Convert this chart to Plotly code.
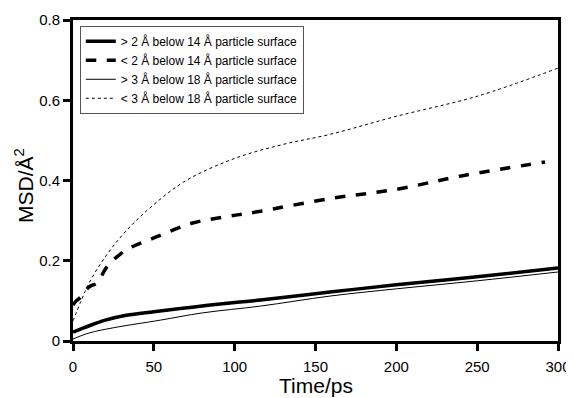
import plotly.graph_objects as go

names = ["> 2 Å below 14 Å particle surface",
         "< 2 Å below 14 Å particle surface",
         "> 3 Å below 18 Å particle surface",
         "< 3 Å below 18 Å particle surface"]
x_title = "Time/ps"
y_title = "MSD/Å<sup>2</sup>"

t_thick = [0, 5, 10, 20, 33, 50, 75, 100, 116, 159, 200, 250, 300]
v_thick = [0.022, 0.03, 0.038, 0.052, 0.064, 0.073, 0.085, 0.096, 0.102, 0.122, 0.14, 0.16, 0.182]

t_dash = [0, 2, 5, 10, 15, 21, 33, 52, 74, 95, 114, 159, 200, 241, 292]
v_dash = [0.09, 0.10, 0.11, 0.135, 0.145, 0.185, 0.227, 0.26, 0.294, 0.31, 0.322, 0.355, 0.378, 0.412, 0.446]

t_thin = [0, 10, 25, 54, 80, 116, 159, 200, 250, 300]
v_thin = [0.005, 0.02, 0.033, 0.052, 0.07, 0.087, 0.112, 0.13, 0.15, 0.172]

t_dot = [0, 5, 10, 20, 33, 50, 70, 100, 130, 159, 200, 250, 300]
v_dot = [0.05, 0.1, 0.145, 0.21, 0.275, 0.34, 0.4, 0.455, 0.49, 0.515, 0.56, 0.61, 0.68]

fig = go.Figure()
fig.add_trace(go.Scatter(x=t_thick, y=v_thick, name=names[0], mode="lines",
                         line=dict(color="black", width=3.5, shape="spline", smoothing=1)))
fig.add_trace(go.Scatter(x=t_dash, y=v_dash, name=names[1], mode="lines",
                         line=dict(color="black", width=3.5, dash="dash", shape="spline", smoothing=1)))
fig.add_trace(go.Scatter(x=t_thin, y=v_thin, name=names[2], mode="lines",
                         line=dict(color="black", width=1, shape="spline", smoothing=1)))
fig.add_trace(go.Scatter(x=t_dot, y=v_dot, name=names[3], mode="lines",
                         line=dict(color="black", width=1, dash="dot", shape="spline", smoothing=1)))

fig.update_layout(
    width=566, height=390,
    margin=dict(l=65, r=16, t=12, b=57, autoexpand=False),
    paper_bgcolor="white", plot_bgcolor="white",
    font=dict(family="Liberation Sans, Arial, sans-serif", color="black", size=15),
    legend=dict(x=0.014, y=0.982, xanchor="left", yanchor="top",
                bordercolor="#555", borderwidth=1, bgcolor="white",
                font=dict(size=12), tracegroupgap=0, itemwidth=30),
    showlegend=True,
    annotations=[
        dict(text=x_title, xref="paper", yref="paper", x=0.5, y=-0.138,
             xanchor="center", yanchor="middle", showarrow=False, font=dict(size=21)),
        dict(text=y_title, xref="paper", yref="paper", x=-0.101, y=0.483,
             xanchor="center", yanchor="middle", showarrow=False, textangle=-90,
             font=dict(size=21)),
    ],
)
fig.update_xaxes(range=[0, 300], tickvals=[0, 50, 100, 150, 200, 250, 300],
                 showgrid=False, zeroline=False, showline=True, linecolor="black",
                 linewidth=3, mirror=True, ticks="outside", ticklen=7, tickwidth=3,
                 tickcolor="black", tickfont=dict(size=15), automargin=False,
                 ticklabelstandoff=3)
fig.update_yaxes(range=[0, 0.8], tickvals=[0, 0.2, 0.4, 0.6, 0.8],
                 ticktext=["0", "0.2", "0.4", "0.6", "0.8"],
                 showgrid=False, zeroline=False, showline=True, linecolor="black",
                 linewidth=3, mirror=True, ticks="outside", ticklen=7, tickwidth=3,
                 tickcolor="black", tickfont=dict(size=15), automargin=False)

fig.write_html("out.html")
